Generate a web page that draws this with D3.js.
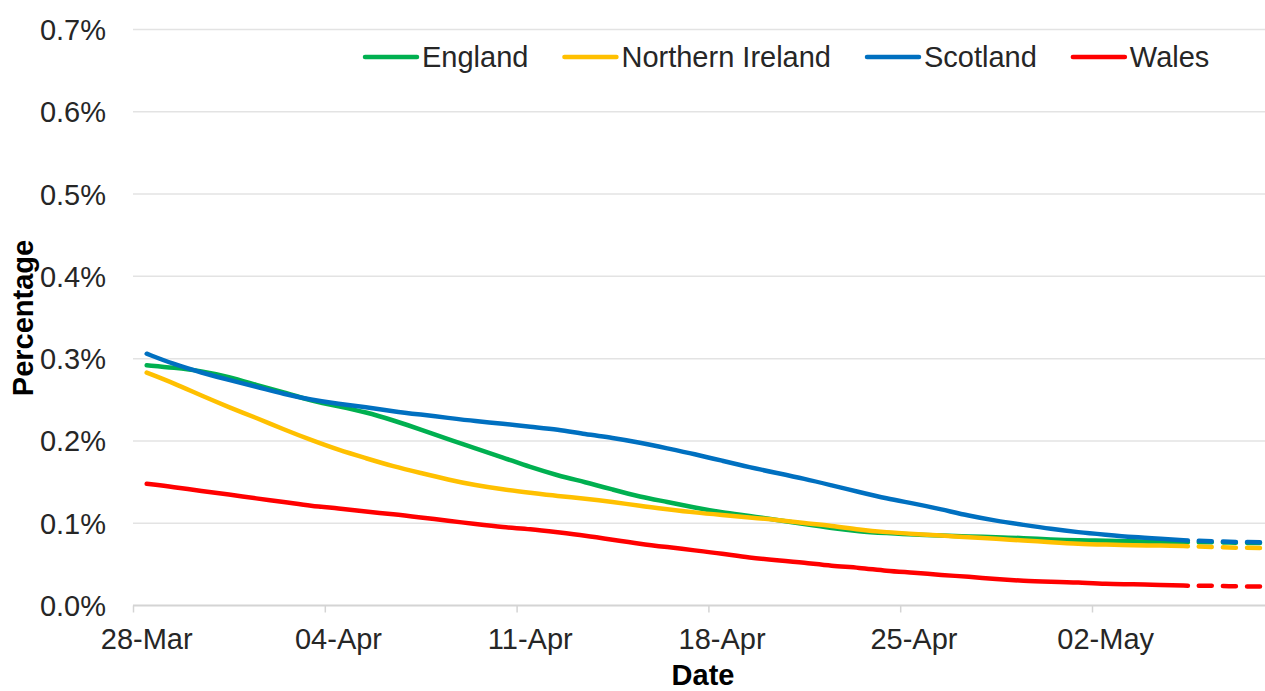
<!DOCTYPE html>
<html>
<head>
<meta charset="utf-8">
<script src="https://cdn.jsdelivr.net/npm/d3@7"></script>
<style>
  body { margin: 0; background: #fff; }
  svg { display: block; font-family: "Liberation Sans", Arial, sans-serif; }
  .grid line { stroke: #e3e3e3; stroke-width: 1.5; }
  .tick-label { font-size: 29px; fill: #262626; }
  .axis-title { font-size: 29px; font-weight: bold; fill: #000; }
</style>
</head>
<body>
<svg width="1265" height="691"></svg>
<script>
// daily categories, 28-Mar onwards
const startDate = "2020-03-28";
const tickDates = ["2020-03-28", "2020-04-04", "2020-04-11", "2020-04-18", "2020-04-25", "2020-05-02"];
const yTicks = [0, 0.1, 0.2, 0.3, 0.4, 0.5, 0.6, 0.7];

// percentage values, one per day (28-Mar .. 06-May)
const england = [0.292, 0.289, 0.285, 0.278, 0.268, 0.259, 0.249, 0.242, 0.235, 0.225,
  0.214, 0.202, 0.191, 0.180, 0.168, 0.158, 0.150, 0.141, 0.132, 0.126,
  0.119, 0.113, 0.109, 0.104, 0.099, 0.094, 0.090, 0.088, 0.086, 0.085,
  0.084, 0.083, 0.082, 0.080, 0.079, 0.079, 0.078, 0.077, 0.077];
const northernIreland = [0.283, 0.270, 0.255, 0.241, 0.228, 0.214, 0.201, 0.189, 0.179, 0.169,
  0.161, 0.153, 0.146, 0.141, 0.137, 0.133, 0.130, 0.126, 0.121, 0.117,
  0.113, 0.110, 0.107, 0.104, 0.100, 0.097, 0.092, 0.089, 0.087, 0.085,
  0.083, 0.081, 0.079, 0.077, 0.075, 0.074, 0.073, 0.073, 0.072];
const scotland = [0.306, 0.293, 0.283, 0.274, 0.266, 0.257, 0.250, 0.245, 0.241, 0.236,
  0.232, 0.228, 0.224, 0.221, 0.217, 0.214, 0.208, 0.204, 0.198, 0.191,
  0.184, 0.176, 0.168, 0.161, 0.154, 0.146, 0.138, 0.130, 0.124, 0.117,
  0.109, 0.103, 0.098, 0.093, 0.089, 0.086, 0.083, 0.081, 0.079];
const wales = [0.148, 0.144, 0.139, 0.135, 0.130, 0.126, 0.121, 0.118, 0.114, 0.111,
  0.107, 0.103, 0.099, 0.095, 0.093, 0.089, 0.085, 0.080, 0.075, 0.071,
  0.067, 0.063, 0.058, 0.055, 0.052, 0.048, 0.046, 0.042, 0.040, 0.037,
  0.035, 0.032, 0.030, 0.029, 0.028, 0.026, 0.026, 0.025, 0.024];

// dashed continuation (06-May .. 09-May)
const englandProj = [0.077, 0.077, 0.076, 0.076];
const northernIrelandProj = [0.072, 0.071, 0.070, 0.070];
const scotlandProj = [0.079, 0.078, 0.077, 0.077];
const walesProj = [0.024, 0.024, 0.023, 0.023];

const series = [
  { name: "England", color: "#00b050", values: england, proj: englandProj },
  { name: "Northern Ireland", color: "#ffc000", values: northernIreland, proj: northernIrelandProj },
  { name: "Scotland", color: "#0070c0", values: scotland, proj: scotlandProj },
  { name: "Wales", color: "#ff0000", values: wales, proj: walesProj }
];

const svg = d3.select("svg");
const parse = d3.utcParse("%Y-%m-%d");
const fmt = d3.utcFormat("%d-%b");
const start = parse(startDate);

const x = d3.scaleUtc()
  .domain([start, d3.utcDay.offset(start, 42)])
  .range([133, 133 + 42 * 27.4]);
const y = d3.scaleLinear().domain([0, 0.7]).range([605.5, 29.5]);

// points sit in the middle of their day, like a category axis
const dayX = i => x(d3.utcHour.offset(d3.utcDay.offset(start, i), 12));

// gridlines
svg.append("g").attr("class", "grid")
  .selectAll("line")
  .data(yTicks.filter(d => d > 0))
  .join("line")
  .attr("x1", 133).attr("x2", 1265)
  .attr("y1", d => y(d)).attr("y2", d => y(d));

// x axis
const xAxis = d3.axisBottom(x)
  .tickValues(tickDates.map(parse))
  .tickSize(7)
  .tickFormat("");
const gx = svg.append("g").attr("transform", `translate(0,${y(0)})`).call(xAxis);
gx.select(".domain").remove();
gx.selectAll(".tick line").attr("stroke", "#d4d4d4").attr("stroke-width", 1.5);
gx.append("line")
  .attr("x1", 133).attr("x2", 1265)
  .attr("stroke", "#d4d4d4").attr("stroke-width", 2);

svg.append("g").selectAll("text")
  .data(tickDates.map(parse))
  .join("text")
  .attr("class", "tick-label")
  .attr("text-anchor", "middle")
  .attr("x", d => x(d3.utcHour.offset(d, 12)))
  .attr("y", 649)
  .text(d => fmt(d));

// y labels
svg.append("g").selectAll("text")
  .data(yTicks)
  .join("text")
  .attr("class", "tick-label")
  .attr("text-anchor", "end")
  .attr("x", 106)
  .attr("y", d => y(d))
  .attr("dy", "0.36em")
  .text(d => d3.format(".1f")(d) + "%");

// axis titles
svg.append("text")
  .attr("class", "axis-title")
  .attr("text-anchor", "middle")
  .attr("x", 703).attr("y", 685)
  .text("Date");
svg.append("text")
  .attr("class", "axis-title")
  .attr("text-anchor", "middle")
  .attr("transform", "translate(33,318) rotate(-90)")
  .text("Percentage");

// lines
const line = d3.line()
  .x(d => dayX(d.i))
  .y(d => y(d.v))
  .curve(d3.curveBasis);

const lastDay = england.length - 1;

const g = svg.append("g");
series.forEach(s => {
  g.append("path")
    .datum(s.proj.map((v, k) => ({ i: lastDay + k, v })))
    .attr("fill", "none")
    .attr("stroke", s.color)
    .attr("stroke-width", 4.5)
    .attr("stroke-linecap", "round")
    .attr("stroke-dasharray", "13,11")
    .attr("stroke-dashoffset", 13)
    .attr("d", line);
  g.append("path")
    .datum(s.values.map((v, i) => ({ i, v })))
    .attr("fill", "none")
    .attr("stroke", s.color)
    .attr("stroke-width", 4.5)
    .attr("stroke-linecap", "round")
    .attr("stroke-linejoin", "round")
    .attr("d", line);
});

// legend
let lx = 365;
series.forEach(s => {
  const item = svg.append("g").attr("transform", `translate(${lx},57)`);
  item.append("line")
    .attr("x1", 0).attr("x2", 52)
    .attr("stroke", s.color).attr("stroke-width", 4.5)
    .attr("stroke-linecap", "round");
  const t = item.append("text")
    .attr("class", "tick-label")
    .attr("x", 57).attr("y", 0).attr("dy", "0.36em")
    .text(s.name);
  lx += 57 + t.node().getComputedTextLength() + 36;
});
</script>
</body>
</html>
